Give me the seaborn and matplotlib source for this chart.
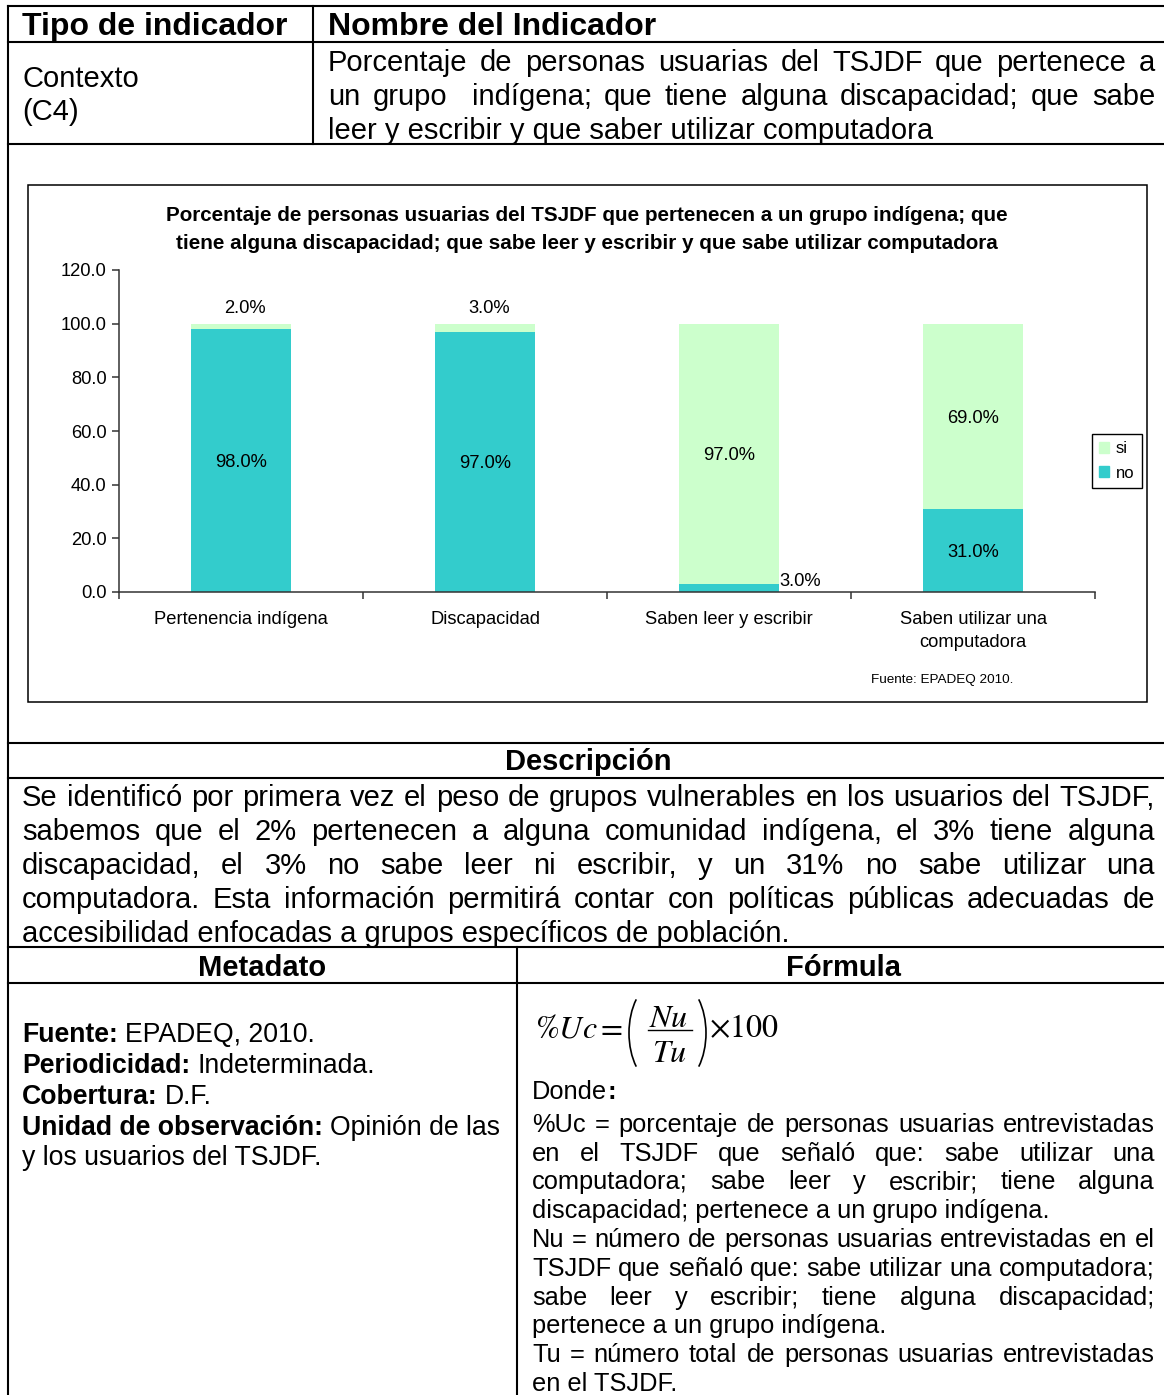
import matplotlib
matplotlib.use("Agg")
import numpy as np
import pandas as pd
import matplotlib.pyplot as plt
import seaborn as sns
from matplotlib.lines import Line2D
from matplotlib.patches import Patch, Rectangle, Arc

# Datos de la grafica
categorias = ["Pertenencia indígena", "Discapacidad", "Saben leer y escribir",
              "Saben utilizar una\ncomputadora"]
no = [98.0, 97.0, 3.0, 31.0]
si = [2.0, 3.0, 97.0, 69.0]
y_ticks = [0, 20, 40, 60, 80, 100, 120]

titulo = ["Porcentaje de personas usuarias del TSJDF que pertenecen a un grupo indígena; que",
          "tiene alguna discapacidad; que sabe leer y escribir y que sabe utilizar computadora"]
fuente = "Fuente: EPADEQ 2010."

nombre_indicador = ["Porcentaje de personas usuarias del TSJDF que pertenece a",
                    "un grupo  indígena; que tiene alguna discapacidad; que sabe",
                    "leer y escribir y que saber utilizar computadora"]
descripcion = ["Se identificó por primera vez el peso de grupos vulnerables en los usuarios del TSJDF,",
               "sabemos que el 2% pertenecen a alguna comunidad indígena, el 3% tiene alguna",
               "discapacidad, el 3% no sabe leer ni escribir, y un 31% no sabe utilizar una",
               "computadora. Esta información permitirá contar con políticas públicas adecuadas de",
               "accesibilidad enfocadas a grupos específicos de población."]
donde = ["%Uc = porcentaje de personas usuarias entrevistadas",
         "en el TSJDF que señaló que: sabe utilizar una",
         "computadora; sabe leer y escribir; tiene alguna",
         "discapacidad; pertenece a un grupo indígena.",
         "Nu = número de personas usuarias entrevistadas en el",
         "TSJDF que señaló que: sabe utilizar una computadora;",
         "sabe leer y escribir; tiene alguna discapacidad;",
         "pertenece a un grupo indígena.",
         "Tu = número total de personas usuarias entrevistadas",
         "en el TSJDF."]
ultimas = [3, 7, 9]  # lineas finales de parrafo (sin justificar)
metadato = [[("Fuente:", "bold"), ("EPADEQ, 2010.", "normal")],
            [("Periodicidad:", "bold"), ("Indeterminada.", "normal")],
            [("Cobertura:", "bold"), ("D.F.", "normal")],
            [("Unidad de observación:", "bold"), ("Opinión de las", "normal")],
            [("y los usuarios del TSJDF.", "normal")]]

plt.rcParams["font.family"] = ["Liberation Sans", "DejaVu Sans"]
plt.rcParams["mathtext.fontset"] = "stix"

W, H = 1164, 1395
fig = plt.figure(figsize=(W / 100, H / 100), dpi=100)
renderer = fig.canvas.get_renderer()


def fx(x):
    return x / W


def fy(y):
    return 1 - y / H


def base(y, size):
    # y es el centro visual de la linea; se pasa a linea base
    return fy(y + 0.48 * size)


def linea_h(y, x0=8, x1=1164, lw=1.5):
    fig.add_artist(Line2D([fx(x0), fx(x1)], [fy(y), fy(y)], color="black", lw=lw))


def linea_v(x, y0, y1, lw=1.5):
    fig.add_artist(Line2D([fx(x), fx(x)], [fy(y0), fy(y1)], color="black", lw=lw))


def texto(x, y, s, size, weight="normal", ha="left"):
    return fig.text(fx(x), base(y, size), s, size=size, weight=weight, ha=ha, va="baseline")


def justificado(s, x0, x1, y, size, weight="normal"):
    palabras = s.split(" ")
    arts = [fig.text(0, base(y, size), p, size=size, weight=weight, va="baseline")
            for p in palabras]
    anchos = [a.get_window_extent(renderer).width if p else 0 for a, p in zip(arts, palabras)]
    hueco = (x1 - x0 - sum(anchos)) / (len(palabras) - 1)
    x = x0
    for a, w in zip(arts, anchos):
        a.set_x(fx(x))
        x += w + hueco


def tramos(partes, x0, y, size):
    x = x0
    espacio = 0.278 * size * 100 / 72
    for s, peso in partes:
        t = texto(x, y, s, size, peso)
        x += t.get_window_extent(renderer).width + espacio


def mate(x, y, s, size=23, ha="left"):
    fig.text(fx(x), fy(y), s, size=size, ha=ha, va="baseline")


# ---- tabla ----
for y in [6, 42, 144, 743, 778, 947, 983]:
    linea_h(y)
linea_v(8, 6, 1395)
linea_v(313, 6, 144)
linea_v(517, 947, 1395)

texto(22, 24, "Tipo de indicador", 23, "bold")
texto(328, 24, "Nombre del Indicador", 23, "bold")
texto(22, 77, "Contexto", 21)
texto(22, 110, "(C4)", 21)
for i, s in enumerate(nombre_indicador):
    if i < len(nombre_indicador) - 1:
        justificado(s, 328, 1155, 61 + 34 * i, 21)
    else:
        texto(328, 61 + 34 * i, s, 21)

texto(588, 760, "Descripción", 21, "bold", ha="center")
for i, s in enumerate(descripcion):
    if i < len(descripcion) - 1:
        justificado(s, 22, 1155, 796 + 34 * i, 21)
    else:
        texto(22, 796 + 34 * i, s, 21)

texto(262, 966, "Metadato", 21, "bold", ha="center")
texto(843, 966, "Fórmula", 21, "bold", ha="center")

for i, partes in enumerate(metadato):
    tramos(partes, 22, 1033 + 30.8 * i, 19.15)

# formula
mate(535, 1037, r"$\%Uc$")
mate(596, 1037, r"$=$")
mate(669, 1027, r"$Nu$", ha="center")
mate(669, 1062, r"$Tu$", ha="center")
mate(709, 1037, r"$\times100$")
fig.add_artist(Line2D([fx(648), fx(692)], [fy(1030), fy(1030)], color="black", lw=1))
fig.add_artist(Arc((fx(659), fy(1033)), 60 / W, 103 / H, theta1=129, theta2=231,
                   color="black", lw=1.2))
fig.add_artist(Arc((fx(676), fy(1033)), 60 / W, 103 / H, theta1=-51, theta2=51,
                   color="black", lw=1.2))

t = texto(532, 1090, "Donde", 18.3)
texto(532 + t.get_window_extent(renderer).width, 1090, ":", 18.3, "bold")
for i, s in enumerate(donde):
    y = 1123 + 28.8 * i
    if i in ultimas:
        texto(532, y, s, 18.3)
    else:
        justificado(s, 532, 1155, y, 18.3)

# ---- grafica ----
fig.add_artist(Rectangle((fx(28), fy(702)), fx(1147) - fx(28), fy(185) - fy(702),
                         fill=False, edgecolor="black", lw=1.1))
texto(587, 214, titulo[0], 14.9, "bold", ha="center")
texto(587, 242, titulo[1], 14.9, "bold", ha="center")
texto(871, 678, fuente, 9.7)

df = pd.DataFrame({"categoria": categorias, "no": no, "si": si})
df["total"] = df["no"] + df["si"]

ax = fig.add_axes([fx(119), fy(592), (1095 - 119) / W, (592 - 270) / H])
sns.barplot(data=df, x="categoria", y="total", color="#CCFFCC", saturation=1,
            width=0.41, linewidth=0, ax=ax)
sns.barplot(data=df, x="categoria", y="no", color="#33CCCC", saturation=1,
            width=0.41, linewidth=0, ax=ax)

ax.set_xlim(-0.5, 3.5)
ax.set_ylim(0, 120)
ax.set_yticks(y_ticks)
ax.set_yticklabels([f"{v:.1f}" for v in y_ticks], fontsize=13.2)
ax.set_xticks(np.arange(-0.5, 4, 1), minor=True)
ax.tick_params(axis="x", which="major", length=0, pad=14, labelsize=13.2)
ax.tick_params(axis="x", which="minor", length=5, width=1.1, color="#333333")
ax.tick_params(axis="y", length=5, width=1.1, color="#333333", pad=4)
for lbl in ax.get_xticklabels():
    lbl.set_linespacing(1.4)
ax.set_xlabel("")
ax.set_ylabel("")
for lado in ["top", "right"]:
    ax.spines[lado].set_visible(False)
for lado in ["left", "bottom"]:
    ax.spines[lado].set_color("#333333")
    ax.spines[lado].set_linewidth(1.1)

# etiquetas de datos
for i, (n, s) in enumerate(zip(no, si)):
    if n < 5:
        ax.annotate(f"{n:.1f}%", (i + 0.205, n), xytext=(0, 2), textcoords="offset points",
                    ha="left", va="center", fontsize=13.2)
    else:
        ax.annotate(f"{n:.1f}%", (i, n / 2), xytext=(0, -1.5), textcoords="offset points",
                    ha="center", va="center", fontsize=13.2)
    if s < 5:
        ax.annotate(f"{s:.1f}%", (i, n + s), xytext=(3, 11), textcoords="offset points",
                    ha="center", va="center", fontsize=13.2)
    else:
        ax.annotate(f"{s:.1f}%", (i, n + s / 2), xytext=(0, -1.5), textcoords="offset points",
                    ha="center", va="center", fontsize=13.2)

manejadores = [Patch(color="#CCFFCC", label="si"), Patch(color="#33CCCC", label="no")]
leg = ax.legend(handles=manejadores, loc="center", bbox_to_anchor=(fx(1117), fy(461)),
                bbox_transform=fig.transFigure, fontsize=12, handlelength=0.6,
                handleheight=0.6, handletextpad=0.4, borderpad=0.45, labelspacing=0.55,
                fancybox=False, framealpha=1, edgecolor="black", borderaxespad=0)
leg.get_frame().set_linewidth(1)

fig.savefig("out.png", dpi=100)
